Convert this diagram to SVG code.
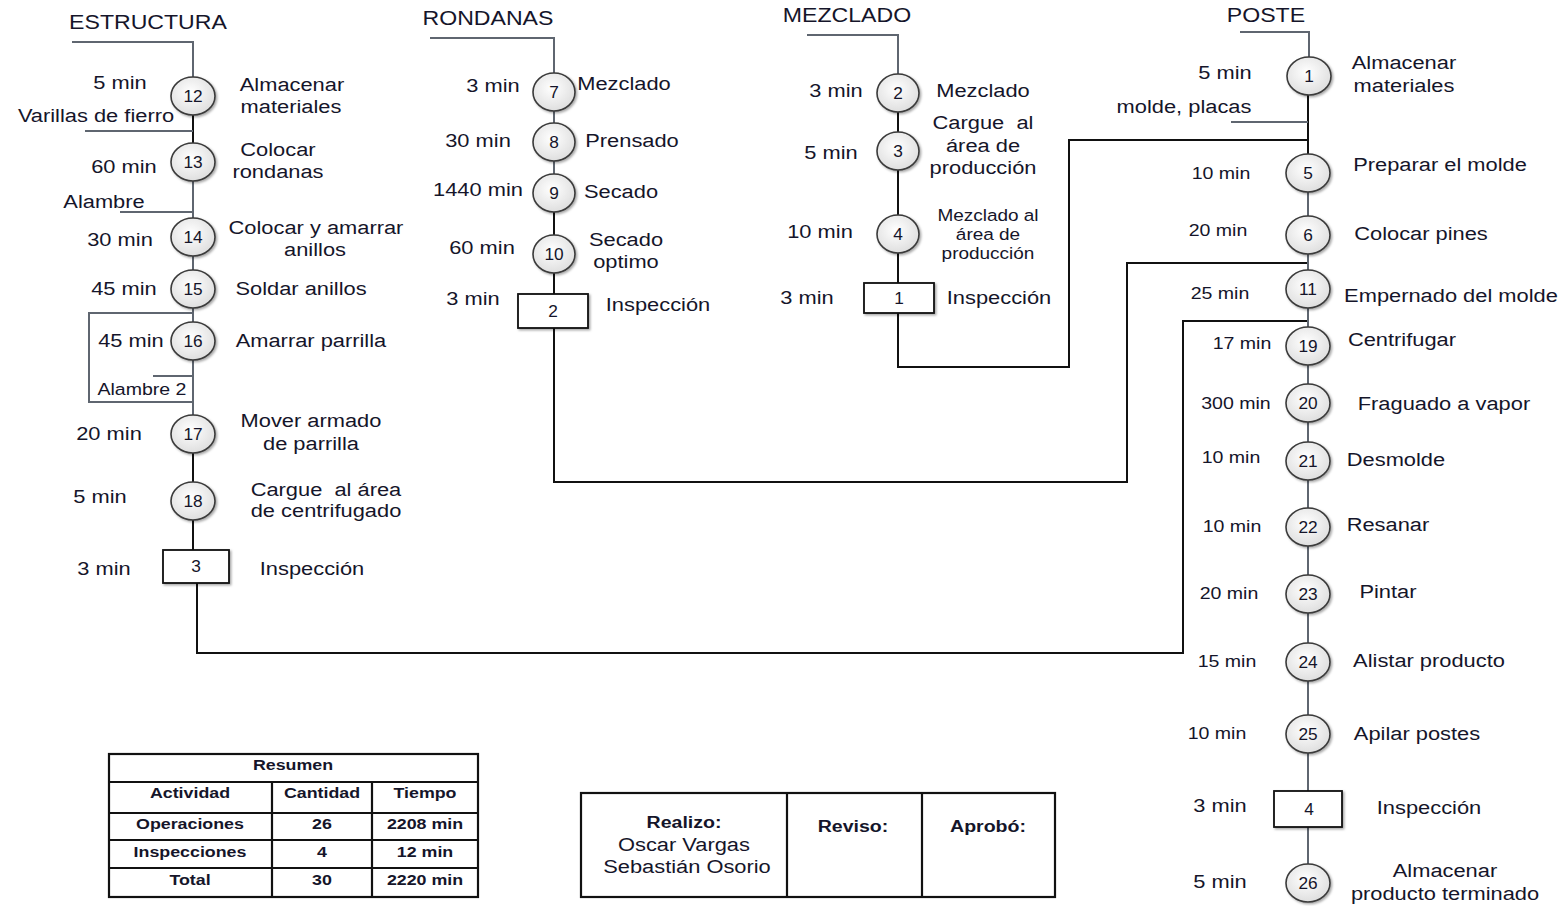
<svg xmlns="http://www.w3.org/2000/svg" width="1568" height="906" viewBox="0 0 1568 906">
  <defs>
    <radialGradient id="opFill" cx="45%" cy="40%" r="65%">
      <stop offset="0" stop-color="#ffffff"/>
      <stop offset="1" stop-color="#dcdcdc"/>
    </radialGradient>
    <filter id="sh" x="-30%" y="-30%" width="160%" height="160%">
      <feDropShadow dx="1.5" dy="1.5" stdDeviation="1" flood-color="#000" flood-opacity="0.35"/>
    </filter>
  </defs>
  <style>
    text { font-family: "Liberation Sans", Arial, sans-serif; fill: #15152a; text-anchor: middle;
           white-space: pre;
           transform-box: fill-box; transform-origin: center; transform: scaleX(1.15); }
    .lbl { font-size: 19px; }
    .sm { font-size: 17px; }
    .xs { font-size: 16.5px; }
    .ttl { font-size: 21px; transform: scaleX(1.1); }
    .num { font-size: 16px; transform: scaleX(1.08); }
    .tb { font-size: 15.5px; font-weight: bold; }
    .sg { font-size: 19px; }
    .sgb { font-size: 17px; font-weight: bold; }
    .op { fill: url(#opFill); stroke: #3a3a3a; stroke-width: 1.6; filter: url(#sh); }
    .insp { fill: #fff; stroke: #111; stroke-width: 1.8; filter: url(#sh); }
    .g { fill: none; stroke: #5f6670; stroke-width: 2; }
    .k { fill: none; stroke: #111; stroke-width: 2; }
    .grid { fill: none; stroke: #111; stroke-width: 2.2; }
  </style>
  <rect width="1568" height="906" fill="#fff"/>

  <!-- connectors -->
  <g id="connectors">
    <!-- ESTRUCTURA line -->
    <path class="g" d="M72 42 H193 V77"/>
    <path class="k" d="M193 114 V144"/>
    <path class="g" d="M85 131 H193"/>
    <path class="g" d="M193 181 V219"/>
    <path class="g" d="M120 212 H193"/>
    <path class="g" d="M193 256 V271"/>
    <path class="g" d="M193 307 V323"/>
    <path class="g" d="M193 313 H89 V402 H193"/>
    <path class="g" d="M193 360 V416"/>
    <path class="g" d="M153 376 H193"/>
    <path class="k" d="M193 453 V483"/>
    <path class="k" d="M193 520 V551"/>
    <path class="k" d="M197 583 V653 H1183 V321 H1308"/>
    <!-- RONDANAS line -->
    <path class="g" d="M430 38 H554 V74"/>
    <path class="g" d="M554 111 V124"/>
    <path class="g" d="M554 161 V175"/>
    <path class="k" d="M554 211 V236"/>
    <path class="k" d="M554 272 V294"/>
    <path class="k" d="M554 328 V482 H1127 V263 H1308"/>
    <!-- MEZCLADO line -->
    <path class="g" d="M807 35 H898 V75"/>
    <path class="k" d="M898 111 V134"/>
    <path class="k" d="M898 169 V216"/>
    <path class="k" d="M898 253 V283"/>
    <path class="k" d="M898 313 V367 H1069 V140 H1308"/>
    <!-- POSTE line -->
    <path class="g" d="M1240 32 H1309 V58"/>
    <path class="k" d="M1308 94 V155"/>
    <path class="g" d="M1231 122 H1308"/>
    <path class="g" d="M1308 191 V217"/>
    <path class="g" d="M1308 253 V271"/>
    <path class="g" d="M1308 307 V328"/>
    <path class="g" d="M1308 365 V385"/>
    <path class="g" d="M1308 421 V443"/>
    <path class="g" d="M1308 479 V509"/>
    <path class="g" d="M1308 545 V575"/>
    <path class="g" d="M1308 612 V644"/>
    <path class="g" d="M1308 680 V716"/>
    <path class="g" d="M1308 752 V791"/>
    <path class="g" d="M1308 827 V864"/>
  </g>

  <!-- column titles -->
  <g id="titles">
    <text class="ttl" x="148" y="29">ESTRUCTURA</text>
    <text class="ttl" x="488" y="25">RONDANAS</text>
    <text class="ttl" x="847" y="22">MEZCLADO</text>
    <text class="ttl" x="1266" y="22">POSTE</text>
  </g>

  <!-- ESTRUCTURA -->
  <g id="n12"><ellipse class="op" cx="193" cy="96" rx="22" ry="19"/><text class="num" x="193" y="102">12</text>
    <text class="lbl" x="120" y="89">5 min</text><text class="lbl" x="292" y="91">Almacenar</text><text class="lbl" x="291" y="113">materiales</text></g>
  <g id="in-varillas"><text class="lbl" x="96" y="122">Varillas de fierro</text></g>
  <g id="n13"><ellipse class="op" cx="193" cy="162" rx="22" ry="19"/><text class="num" x="193" y="168">13</text>
    <text class="lbl" x="124" y="173">60 min</text><text class="lbl" x="278" y="156">Colocar</text><text class="lbl" x="278" y="178">rondanas</text></g>
  <g id="in-alambre"><text class="lbl" x="104" y="208">Alambre</text></g>
  <g id="n14"><ellipse class="op" cx="193" cy="237" rx="22" ry="19"/><text class="num" x="193" y="243">14</text>
    <text class="lbl" x="120" y="246">30 min</text><text class="lbl" x="316" y="234">Colocar y amarrar</text><text class="lbl" x="315" y="256">anillos</text></g>
  <g id="n15"><ellipse class="op" cx="193" cy="289" rx="22" ry="19"/><text class="num" x="193" y="295">15</text>
    <text class="lbl" x="124" y="295">45 min</text><text class="lbl" x="301" y="295">Soldar anillos</text></g>
  <g id="n16"><ellipse class="op" cx="193" cy="341" rx="22" ry="19"/><text class="num" x="193" y="347">16</text>
    <text class="lbl" x="131" y="347">45 min</text><text class="lbl" x="311" y="347">Amarrar parrilla</text></g>
  <g id="in-alambre2"><text class="sm" x="142" y="395">Alambre 2</text></g>
  <g id="n17"><ellipse class="op" cx="193" cy="434" rx="22" ry="19"/><text class="num" x="193" y="440">17</text>
    <text class="lbl" x="109" y="440">20 min</text><text class="lbl" x="311" y="427">Mover armado</text><text class="lbl" x="311" y="450">de parrilla</text></g>
  <g id="n18"><ellipse class="op" cx="193" cy="501" rx="22" ry="19"/><text class="num" x="193" y="507">18</text>
    <text class="lbl" x="100" y="503">5 min</text><text class="lbl" x="326" y="496">Cargue  al área</text><text class="lbl" x="326" y="517">de centrifugado</text></g>
  <g id="i3"><rect class="insp" x="163" y="550" width="66" height="33"/><text class="num" x="196" y="572">3</text>
    <text class="lbl" x="104" y="575">3 min</text><text class="lbl" x="312" y="575">Inspección</text></g>

  <!-- RONDANAS -->
  <g id="n7"><ellipse class="op" cx="554" cy="92" rx="21" ry="19"/><text class="num" x="554" y="98">7</text>
    <text class="lbl" x="493" y="92">3 min</text><text class="lbl" x="624" y="90">Mezclado</text></g>
  <g id="n8"><ellipse class="op" cx="554" cy="142" rx="21" ry="19"/><text class="num" x="554" y="148">8</text>
    <text class="lbl" x="478" y="147">30 min</text><text class="lbl" x="632" y="147">Prensado</text></g>
  <g id="n9"><ellipse class="op" cx="554" cy="193" rx="21" ry="19"/><text class="num" x="554" y="199">9</text>
    <text class="lbl" x="478" y="196">1440 min</text><text class="lbl" x="621" y="198">Secado</text></g>
  <g id="n10"><ellipse class="op" cx="554" cy="254" rx="21" ry="19"/><text class="num" x="554" y="260">10</text>
    <text class="lbl" x="482" y="254">60 min</text><text class="lbl" x="626" y="246">Secado</text><text class="lbl" x="626" y="268">optimo</text></g>
  <g id="i2"><rect class="insp" x="518" y="294" width="70" height="34"/><text class="num" x="553" y="317">2</text>
    <text class="lbl" x="473" y="305">3 min</text><text class="lbl" x="658" y="311">Inspección</text></g>

  <!-- MEZCLADO -->
  <g id="n2"><ellipse class="op" cx="898" cy="93" rx="21" ry="19"/><text class="num" x="898" y="99">2</text>
    <text class="lbl" x="836" y="97">3 min</text><text class="lbl" x="983" y="97">Mezclado</text></g>
  <g id="n3"><ellipse class="op" cx="898" cy="151" rx="21" ry="19"/><text class="num" x="898" y="157">3</text>
    <text class="lbl" x="831" y="159">5 min</text><text class="lbl" x="983" y="129">Cargue  al</text><text class="lbl" x="983" y="152">área de</text><text class="lbl" x="983" y="174">producción</text></g>
  <g id="n4"><ellipse class="op" cx="898" cy="234" rx="21" ry="19"/><text class="num" x="898" y="240">4</text>
    <text class="lbl" x="820" y="238">10 min</text><text class="xs" x="988" y="221">Mezclado al</text><text class="xs" x="988" y="240">área de</text><text class="xs" x="988" y="259">producción</text></g>
  <g id="i1"><rect class="insp" x="864" y="283" width="70" height="30"/><text class="num" x="899" y="304">1</text>
    <text class="lbl" x="807" y="304">3 min</text><text class="lbl" x="999" y="304">Inspección</text></g>

  <!-- POSTE -->
  <g id="n1"><ellipse class="op" cx="1309" cy="76" rx="22" ry="19"/><text class="num" x="1309" y="82">1</text>
    <text class="lbl" x="1225" y="79">5 min</text><text class="lbl" x="1404" y="69">Almacenar</text><text class="lbl" x="1404" y="92">materiales</text></g>
  <g id="in-molde"><text class="lbl" x="1184" y="113">molde, placas</text></g>
  <g id="n5"><ellipse class="op" cx="1308" cy="173" rx="22" ry="19"/><text class="num" x="1308" y="179">5</text>
    <text class="sm" x="1221" y="179">10 min</text><text class="lbl" x="1440" y="171">Preparar el molde</text></g>
  <g id="n6"><ellipse class="op" cx="1308" cy="235" rx="22" ry="19"/><text class="num" x="1308" y="241">6</text>
    <text class="sm" x="1218" y="236">20 min</text><text class="lbl" x="1421" y="240">Colocar pines</text></g>
  <g id="n11"><ellipse class="op" cx="1308" cy="289" rx="22" ry="19"/><text class="num" x="1308" y="295">11</text>
    <text class="sm" x="1220" y="299">25 min</text><text class="lbl" x="1451" y="302">Empernado del molde</text></g>
  <g id="n19"><ellipse class="op" cx="1308" cy="346" rx="22" ry="19"/><text class="num" x="1308" y="352">19</text>
    <text class="sm" x="1242" y="349">17 min</text><text class="lbl" x="1402" y="346">Centrifugar</text></g>
  <g id="n20"><ellipse class="op" cx="1308" cy="403" rx="22" ry="19"/><text class="num" x="1308" y="409">20</text>
    <text class="sm" x="1236" y="409">300 min</text><text class="lbl" x="1444" y="410">Fraguado a vapor</text></g>
  <g id="n21"><ellipse class="op" cx="1308" cy="461" rx="22" ry="19"/><text class="num" x="1308" y="467">21</text>
    <text class="sm" x="1231" y="463">10 min</text><text class="lbl" x="1396" y="466">Desmolde</text></g>
  <g id="n22"><ellipse class="op" cx="1308" cy="527" rx="22" ry="19"/><text class="num" x="1308" y="533">22</text>
    <text class="sm" x="1232" y="532">10 min</text><text class="lbl" x="1388" y="531">Resanar</text></g>
  <g id="n23"><ellipse class="op" cx="1308" cy="594" rx="22" ry="19"/><text class="num" x="1308" y="600">23</text>
    <text class="sm" x="1229" y="599">20 min</text><text class="lbl" x="1388" y="598">Pintar</text></g>
  <g id="n24"><ellipse class="op" cx="1308" cy="662" rx="22" ry="19"/><text class="num" x="1308" y="668">24</text>
    <text class="sm" x="1227" y="667">15 min</text><text class="lbl" x="1429" y="667">Alistar producto</text></g>
  <g id="n25"><ellipse class="op" cx="1308" cy="734" rx="22" ry="19"/><text class="num" x="1308" y="740">25</text>
    <text class="sm" x="1217" y="739">10 min</text><text class="lbl" x="1417" y="740">Apilar postes</text></g>
  <g id="i4"><rect class="insp" x="1274" y="791" width="68" height="36"/><text class="num" x="1309" y="815">4</text>
    <text class="lbl" x="1220" y="812">3 min</text><text class="lbl" x="1429" y="814">Inspección</text></g>
  <g id="n26"><ellipse class="op" cx="1308" cy="883" rx="22" ry="19"/><text class="num" x="1308" y="889">26</text>
    <text class="lbl" x="1220" y="888">5 min</text><text class="lbl" x="1445" y="877">Almacenar</text><text class="lbl" x="1445" y="900">producto terminado</text></g>

  <!-- summary table -->
  <g id="resumen">
    <rect class="grid" x="109" y="754" width="369" height="143"/>
    <path class="grid" d="M109 782 H478 M109 813 H478 M109 840 H478 M109 868 H478 M272 782 V897 M372 782 V897"/>
    <text class="tb" x="293" y="770">Resumen</text>
    <text class="tb" x="190" y="798">Actividad</text>
    <text class="tb" x="322" y="798">Cantidad</text>
    <text class="tb" x="425" y="798">Tiempo</text>
    <text class="tb" x="190" y="829">Operaciones</text>
    <text class="tb" x="322" y="829">26</text>
    <text class="tb" x="425" y="829">2208 min</text>
    <text class="tb" x="190" y="857">Inspecciones</text>
    <text class="tb" x="322" y="857">4</text>
    <text class="tb" x="425" y="857">12 min</text>
    <text class="tb" x="190" y="885">Total</text>
    <text class="tb" x="322" y="885">30</text>
    <text class="tb" x="425" y="885">2220 min</text>
  </g>

  <!-- sign-off block -->
  <g id="firmas">
    <rect class="grid" x="581" y="793" width="474" height="104"/>
    <path class="grid" d="M787 793 V897 M922 793 V897"/>
    <text class="sgb" x="684" y="828">Realizo:</text>
    <text class="sg" x="684" y="851">Oscar Vargas</text>
    <text class="sg" x="687" y="873">Sebastián Osorio</text>
    <text class="sgb" x="853" y="832">Reviso:</text>
    <text class="sgb" x="988" y="832">Aprobó:</text>
  </g>
</svg>
